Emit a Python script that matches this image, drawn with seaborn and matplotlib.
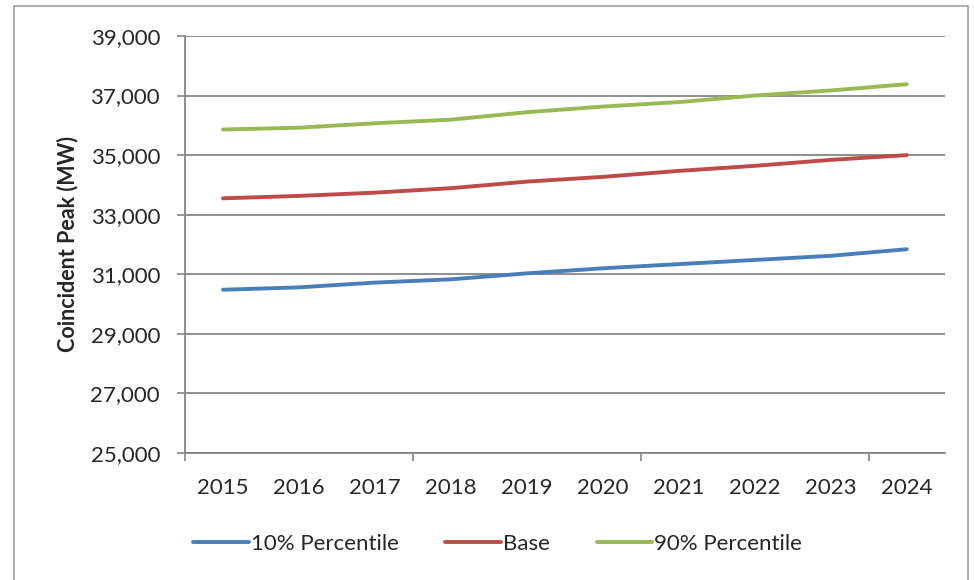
#!/usr/bin/env python3
"""
plot.py — Coincident peak forecast, 10% / Base / 90% percentile, 2015-2024.
Saves out.png (974x580).
"""
import numpy as np
import pandas as pd
import matplotlib.pyplot as plt
import seaborn as sns
from matplotlib.patches import Rectangle
from matplotlib.ticker import FuncFormatter

years = ["2015", "2016", "2017", "2018", "2019",
         "2020", "2021", "2022", "2023", "2024"]
p10 = [30480, 30560, 30720, 30830, 31030, 31200, 31340, 31480, 31620, 31840]
base = [33550, 33630, 33740, 33890, 34110, 34270, 34470, 34640, 34840, 35000]
p90 = [35860, 35920, 36070, 36190, 36440, 36630, 36780, 37000, 37170, 37380]

series_names = ["10% Percentile", "Base", "90% Percentile"]
colors = ["#4A7EBB", "#BE4B48", "#98B954"]


def main():
    df = pd.DataFrame({
        "Year": years * 3,
        "Peak": p10 + base + p90,
        "Series": np.repeat(series_names, len(years)),
    })

    sns.set_style("white")
    plt.rcParams["font.family"] = ["Lato", "DejaVu Sans"]
    grid_c = "#868686"

    fig = plt.figure(figsize=(9.74, 5.8), dpi=100)
    ax = fig.add_axes([0.190, 0.219, 0.780, 0.719])

    sns.lineplot(
        data=df, x="Year", y="Peak", hue="Series",
        hue_order=series_names, palette=colors,
        linewidth=2.8, ax=ax, legend=True, sort=False,
    )

    # -------- axes styling (Excel look) --------
    ax.set_ylim(25000, 39000)
    ax.set_yticks(np.arange(25000, 39001, 2000))
    ax.yaxis.set_major_formatter(FuncFormatter(lambda v, _: f"{v:,.0f}"))
    ax.set_xlim(-0.5, len(years) - 0.5)
    ax.set_xticks(range(len(years)))
    ax.set_xticklabels(years)
    ax.set_xticks([-0.5, 2.5, 5.5, 8.5], minor=True)

    ax.grid(axis="y", color=grid_c, linewidth=1.3)
    ax.set_axisbelow(True)
    for side in ["top", "right"]:
        ax.spines[side].set_visible(False)
    for side in ["left", "bottom"]:
        ax.spines[side].set_color(grid_c)
        ax.spines[side].set_linewidth(1.3)

    ax.tick_params(axis="y", length=6, width=1.2, color=grid_c,
                   labelsize=16, pad=12, left=True)
    ax.tick_params(axis="x", which="major", length=0, labelsize=16, pad=18)
    ax.tick_params(axis="x", which="minor", length=6, width=1.2,
                   color=grid_c, bottom=True)

    ax.set_xlabel("")
    ax.set_ylabel("Coincident Peak (MW)", fontsize=15.5, fontweight="bold")
    ax.yaxis.set_label_coords(-0.14, 0.5)

    # legend below the plot
    handles, labels = ax.get_legend_handles_labels()
    ax.get_legend().remove()
    fig.legend(handles, labels, loc="center", ncol=3,
               bbox_to_anchor=(0.511, 0.062), frameon=False,
               fontsize=16, handlelength=2.5, handletextpad=0.1,
               columnspacing=2.1)

    # chart area border
    fig.patches.append(Rectangle(
        (14 / 974, -0.02), (968 - 14) / 974, 1 - 6 / 580 + 0.02,
        transform=fig.transFigure, fill=False,
        edgecolor="#A0A0A0", linewidth=1.2,
    ))

    fig.savefig("out.png", dpi=100)
    plt.close(fig)


if __name__ == "__main__":
    main()
